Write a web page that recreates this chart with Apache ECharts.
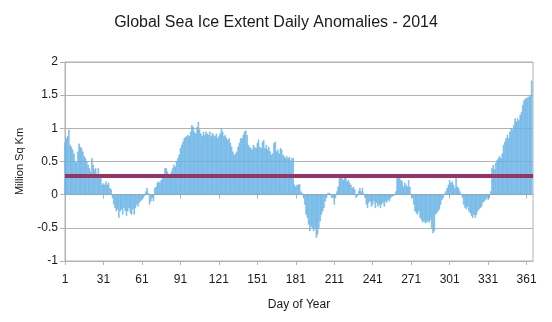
<!DOCTYPE html>
<html>
<head>
<meta charset="utf-8">
<script src="https://cdn.jsdelivr.net/npm/echarts@6/dist/echarts.min.js"></script>
<style>
html,body{margin:0;padding:0;background:#fff;}
#chart{width:552px;height:322px;}
</style>
</head>
<body>
<div id="chart"></div>
<script>
// Day-of-year categories (axis spans 1..366)
const days = [];
for (let d = 1; d <= 366; d++) days.push(String(d));

// Daily sea ice extent anomalies (million sq km), days 1..365
const anomalies = [
  0.78, 0.85, 0.88, 0.98, 0.75, 0.72, 0.68, 0.62, 0.50, 0.48,
  0.65, 0.77, 0.72, 0.70, 0.65, 0.58, 0.55, 0.50, 0.45, 0.40,
  0.35, 0.55, 0.45, 0.38, 0.40, 0.30, 0.40, 0.30, 0.25, 0.15,
  0.17, 0.15, 0.20, 0.15, 0.18, 0.10, 0.08, -0.05, -0.15, -0.20,
  -0.25, -0.22, -0.35, -0.25, -0.22, -0.30, -0.20, -0.25, -0.32, -0.25,
  -0.20, -0.28, -0.30, -0.22, -0.30, -0.20, -0.15, -0.18, -0.12, -0.10,
  -0.08, -0.05, -0.02, 0.05, 0.10, 0.02, -0.15, -0.10, -0.05, -0.10,
  0.10, 0.12, 0.18, 0.20, 0.18, 0.22, 0.25, 0.30, 0.40, 0.40,
  0.35, 0.30, 0.30, 0.35, 0.40, 0.45, 0.42, 0.50, 0.55, 0.60,
  0.70, 0.75, 0.80, 0.85, 0.87, 0.88, 0.90, 0.88, 0.95, 1.05,
  1.02, 0.95, 0.92, 1.02, 1.10, 0.98, 0.92, 0.88, 0.95, 0.90,
  0.95, 0.92, 0.90, 0.95, 0.88, 0.93, 0.90, 0.88, 0.92, 0.85,
  0.88, 0.92, 1.00, 0.95, 0.88, 0.90, 0.85, 0.82, 0.85, 0.78,
  0.72, 0.65, 0.60, 0.62, 0.65, 0.72, 0.78, 0.85, 0.85, 0.90,
  0.95, 0.97, 0.90, 0.75, 0.72, 0.70, 0.68, 0.75, 0.72, 0.70,
  0.78, 0.83, 0.72, 0.70, 0.80, 0.82, 0.70, 0.75, 0.68, 0.72,
  0.65, 0.60, 0.62, 0.78, 0.80, 0.65, 0.68, 0.62, 0.70, 0.68,
  0.60, 0.58, 0.55, 0.58, 0.55, 0.57, 0.52, 0.55, 0.55, 0.15,
  0.12, 0.15, 0.15, 0.16, 0.05, 0.02, -0.05, -0.15, -0.30, -0.35,
  -0.45, -0.55, -0.48, -0.50, -0.55, -0.50, -0.65, -0.60, -0.50, -0.40,
  -0.30, -0.25, -0.20, -0.10, -0.05, 0.02, 0.03, 0.00, -0.05, -0.05,
  -0.15, -0.05, 0.05, 0.12, 0.25, 0.30, 0.28, 0.22, 0.25, 0.30,
  0.20, 0.22, 0.18, 0.15, 0.10, 0.12, 0.08, -0.05, -0.02, 0.05,
  0.10, 0.05, 0.10, 0.02, -0.05, -0.15, -0.20, -0.12, -0.10, -0.18,
  -0.15, -0.10, -0.20, -0.12, -0.18, -0.15, -0.20, -0.15, -0.12, -0.18,
  -0.10, -0.12, -0.08, -0.10, -0.05, -0.03, -0.02, -0.01, 0.05, 0.25,
  0.30, 0.28, 0.22, 0.20, 0.12, 0.18, 0.15, 0.12, 0.22, 0.12,
  0.00, -0.05, -0.15, -0.25, -0.28, -0.30, -0.25, -0.35, -0.38, -0.42,
  -0.40, -0.43, -0.42, -0.40, -0.42, -0.38, -0.50, -0.58, -0.55, -0.30,
  -0.28, -0.25, -0.22, -0.15, -0.08, -0.05, 0.02, 0.05, 0.10, 0.15,
  0.22, 0.18, 0.20, 0.15, 0.10, 0.25, 0.12, 0.10, 0.05, 0.00,
  -0.05, -0.15, -0.20, -0.22, -0.18, -0.25, -0.28, -0.32, -0.35, -0.30,
  -0.35, -0.30, -0.25, -0.22, -0.20, -0.18, -0.12, -0.10, -0.08, -0.05,
  -0.08, -0.05, 0.05, 0.40, 0.45, 0.38, 0.48, 0.52, 0.55, 0.58,
  0.55, 0.62, 0.75, 0.80, 0.85, 0.90, 0.85, 0.95, 1.00, 0.98,
  1.05, 1.15, 1.10, 1.15, 1.12, 1.20, 1.25, 1.35, 1.42, 1.45,
  1.45, 1.47, 1.48, 1.50, 1.72
];

// Reference (mean) level drawn as the horizontal line
const meanLevel = 0.29;

// Value axis bounds
const yMin = -1, yMax = 2, yStep = 0.5;

// Label/tick every 30 days (1, 31, 61, ... 361)
const everyThirty = (idx) => idx % 30 === 0;

const FONT = 'Liberation Sans, Arial, sans-serif';
const chart = echarts.init(document.getElementById('chart'), null, {renderer: 'canvas'});
chart.setOption({
  animation: false,
  backgroundColor: '#ffffff',
  title: {
    text: 'Global Sea Ice Extent Daily Anomalies - 2014',
    left: 'center',
    top: 10,
    textStyle: {fontFamily: FONT, fontSize: 16, fontWeight: 'normal', color: '#1a1a1a'}
  },
  grid: {left: 65, right: 19, top: 62, bottom: 61, show: true, borderColor: '#b3b3b3', borderWidth: 1, backgroundColor: 'transparent'},
  xAxis: [{
    type: 'category',
    data: days,
    boundaryGap: false,
    position: 'bottom',
    name: 'Day of Year',
    nameLocation: 'middle',
    nameGap: 38,
    nameTextStyle: {fontFamily: FONT, fontSize: 12, color: '#1a1a1a'},
    axisLine: {onZero: false, lineStyle: {color: '#b3b3b3'}},
    axisTick: {interval: everyThirty, length: 4, lineStyle: {color: '#b3b3b3'}},
    axisLabel: {interval: everyThirty, margin: 13, fontFamily: FONT, fontSize: 12, color: '#1a1a1a', hideOverlap: false},
    splitLine: {show: false}
  }, {
    type: 'category',
    data: days,
    boundaryGap: false,
    position: 'bottom',
    axisLine: {onZero: true, lineStyle: {color: '#b3b3b3'}},
    axisTick: {interval: everyThirty, length: 4, lineStyle: {color: '#b3b3b3'}},
    axisLabel: {show: false},
    splitLine: {show: false}
  }],
  yAxis: {
    type: 'value',
    min: yMin, max: yMax, interval: yStep,
    name: 'Million Sq Km',
    nameLocation: 'middle',
    nameGap: 40,
    nameRotate: 90,
    nameTextStyle: {fontFamily: FONT, fontSize: 11, color: '#1a1a1a'},
    axisLine: {show: true, lineStyle: {color: '#b3b3b3'}},
    axisTick: {show: true, length: 5, lineStyle: {color: '#b3b3b3'}},
    axisLabel: {margin: 7, fontFamily: FONT, fontSize: 12, color: '#1a1a1a'},
    splitLine: {lineStyle: {color: '#b3b3b3', width: 1}}
  },
  series: [{
    type: 'bar',
    xAxisIndex: 0,
    data: anomalies,
    barCategoryGap: '0%',
    itemStyle: {color: '#acd8f6', borderColor: '#4aa3de', borderWidth: 0.5},
    markLine: {
      silent: true,
      symbol: ['none', 'none'],
      label: {show: false},
      lineStyle: {color: '#993366', width: 4, type: 'solid'},
      data: [{yAxis: meanLevel}]
    }
  }]
});
</script>
</body>
</html>
